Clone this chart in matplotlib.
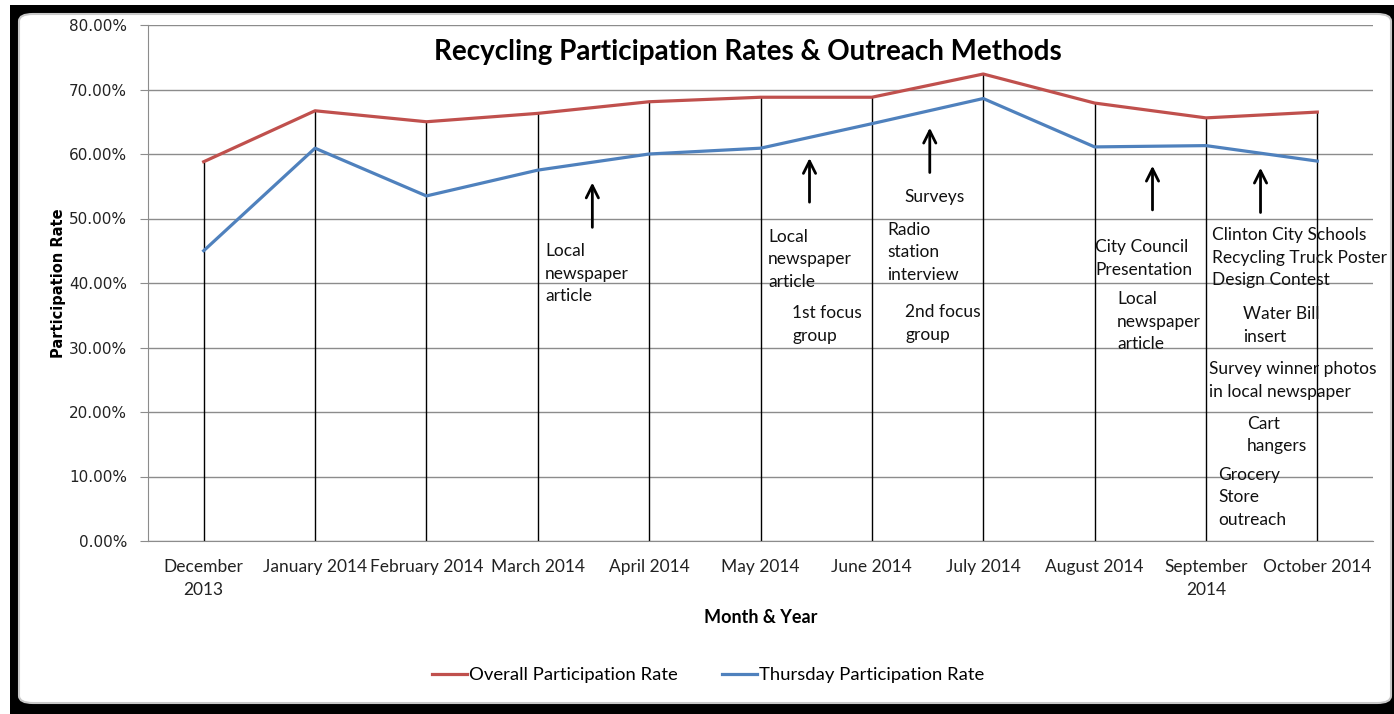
import matplotlib
matplotlib.use("Agg")
import matplotlib.pyplot as plt
from matplotlib.patches import Rectangle, FancyBboxPatch
from matplotlib.ticker import PercentFormatter

# Daten
months = ["December\n2013", "January 2014", "February 2014", "March 2014", "April 2014",
          "May 2014", "June 2014", "July 2014", "August 2014", "September\n2014", "October 2014"]
overall = [58.8, 66.7, 65.0, 66.3, 68.1, 68.8, 68.8, 72.4, 67.9, 65.6, 66.5]
thursday = [45.0, 60.9, 53.5, 57.5, 60.0, 60.9, 64.7, 68.6, 61.1, 61.3, 58.9]

# Outreach-Notizen (Kategorie-Position, Prozent-Höhe, Text)
notes = [
    (3.065, 41.4, "Local\nnewspaper\narticle"),
    (5.068, 43.7, "Local\nnewspaper\narticle"),
    (5.283, 33.6, "1st focus\ngroup"),
    (6.289, 53.3, "Surveys"),
    (6.136, 44.8, "Radio\nstation\ninterview"),
    (6.298, 33.7, "2nd focus\ngroup"),
    (8.004, 43.8, "City Council\nPresentation"),
    (8.202, 34.0, "Local\nnewspaper\narticle"),
    (9.055, 43.9, "Clinton City Schools\nRecycling Truck Poster\nDesign Contest"),
    (9.333, 33.4, "Water Bill\ninsert"),
    (9.028, 24.9, "Survey winner photos\nin local newspaper"),
    (9.369, 16.4, "Cart\nhangers"),
    (9.109, 6.8, "Grocery\nStore\noutreach"),
]
# Pfeile (x, Spitze, Fuß)
arrows = [(3.49, 56.0, 48.2), (5.44, 59.8, 52.1), (6.52, 64.5, 56.7),
          (8.52, 58.6, 50.9), (9.49, 58.3, 50.5)]

calibri = "Lato"
fs = 12.5

fig = plt.figure(figsize=(13.94, 7.14), dpi=100)
W, H = 1394, 714

# schwarzer Rahmen + weiße Chartfläche
fig.patches.append(Rectangle((10 / W, 0), 1 - 10 / W, 1 - 5 / H, transform=fig.transFigure,
                             facecolor="black", edgecolor="none", zorder=-5))
fig.patches.append(FancyBboxPatch((19 / W, 11 / H), 1372 / W, 689 / H,
                                  boxstyle="round,pad=0,rounding_size=0.01",
                                  transform=fig.transFigure, facecolor="white",
                                  edgecolor="#c8c8c8", lw=1.5, zorder=-4))

ax = fig.add_axes([148 / W, 1 - 541 / H, (1373 - 148) / W, (541 - 25) / H])
ax.set_facecolor("none")
x = list(range(len(months)))

ax.vlines(x, 0, overall, color="black", lw=1, zorder=2)
l1, = ax.plot(x, overall, color="#C0504D", lw=2.3, zorder=3, label="Overall Participation Rate")
l2, = ax.plot(x, thursday, color="#4F81BD", lw=2.3, zorder=3, label="Thursday Participation Rate")

ax.set_xlim(-0.5, len(months) - 0.5)
ax.set_ylim(0, 80)
ax.set_yticks(range(0, 81, 10))
ax.yaxis.set_major_formatter(PercentFormatter(decimals=2))
ax.grid(axis="y", color="#8c8c8c", lw=1)
ax.set_axisbelow(True)
for s in ["top", "right"]:
    ax.spines[s].set_visible(False)
ax.spines["left"].set_color("#8c8c8c")
ax.spines["bottom"].set_color("#8c8c8c")
ax.tick_params(axis="y", length=6, color="#8c8c8c", labelsize=11, pad=9, labelcolor="#222222")
ax.tick_params(axis="x", length=0, pad=13)
ax.set_xticks(x)
ax.set_xticklabels(months, fontfamily=calibri, fontsize=fs, color="#222222", linespacing=1.5)

ax.set_ylabel("Participation Rate", fontsize=10.5, fontweight="bold", labelpad=2)
ax.set_xlabel("Month & Year", fontfamily=calibri, fontsize=13, fontweight="bold", labelpad=8)
ax.text(0.49, 0.948, "Recycling Participation Rates & Outreach Methods", transform=ax.transAxes,
        ha="center", va="center", fontfamily=calibri, fontsize=20, fontweight="bold")

for xa, tip, base in arrows:
    ax.annotate("", xy=(xa, tip), xytext=(xa, base),
                arrowprops=dict(arrowstyle="->", lw=2, color="black", mutation_scale=22))

for xn, yn, txt in notes:
    ax.text(xn, yn, txt, ha="left", va="center", fontfamily=calibri, fontsize=fs,
            color="#111111", linespacing=1.5, zorder=4)

fig.legend(handles=[l1, l2], loc="center", bbox_to_anchor=(708 / W, 1 - 675 / H), ncol=2,
           frameon=False, prop={"family": calibri, "size": 13.3}, handlelength=1.9,
           handletextpad=0.1, columnspacing=2.4)

fig.savefig("out.png", dpi=100)
